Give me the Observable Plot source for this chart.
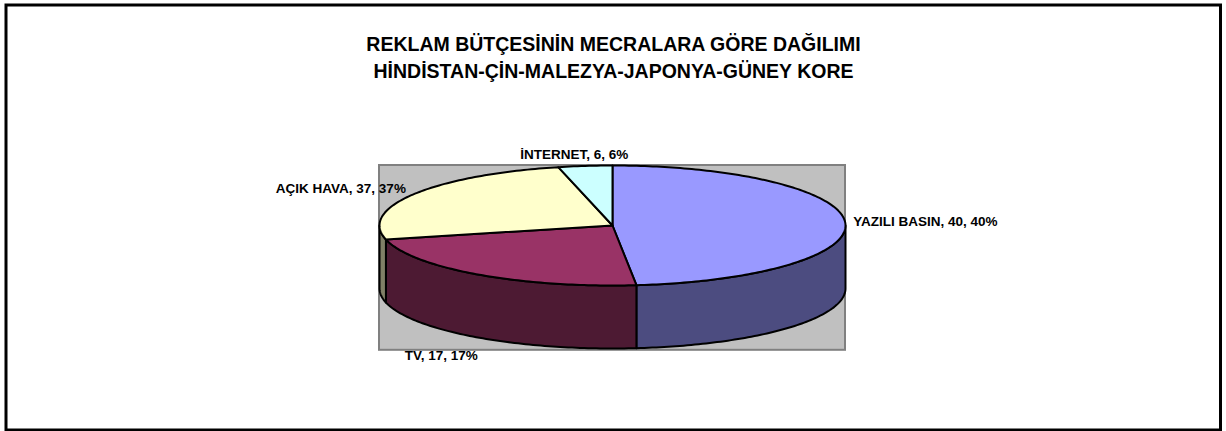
<!DOCTYPE html>
<html><head><meta charset="utf-8">
<script src="https://cdn.jsdelivr.net/npm/d3@7"></script>
<script src="https://cdn.jsdelivr.net/npm/@observablehq/plot@0.6"></script>
<style>
body{margin:0;background:#fff;overflow:hidden}
#chart{width:1226px;height:431px}
</style>
</head><body><div id="chart"></div>
<script>
// ---- data ----
const titleLines = ["REKLAM BÜTÇESİNİN MECRALARA GÖRE DAĞILIMI", "HİNDİSTAN-ÇİN-MALEZYA-JAPONYA-GÜNEY KORE"];
const categories = ["YAZILI BASIN", "TV", "AÇIK HAVA", "İNTERNET"];
const values = [40, 17, 37, 6];

// ---- styles ----
const topColors = ["#9999FF", "#993366", "#FFFFCC", "#CCFFFF"];
const sideColors = ["#4C4C80", "#4D1A33", "#808066", "#668080"];
const FONT = "'Liberation Sans', Arial, sans-serif";

// ---- 3D layout (unit coordinates of the pie) ----
const DEPTH = 1.05;          // thickness of the pie, in units of the vertical radius
const PERSP_R = 0.27, PERSP_DIR = 130; // perspective distortion of the angles

const rad = Math.PI / 180;
function h(psi) { const p = psi * rad; return 2 * Math.atan(PERSP_R * Math.sin(p) / (1 - PERSP_R * Math.cos(p))) / rad; }
function apparent(phi) { return phi + h(phi - PERSP_DIR) - h(-PERSP_DIR); }
function arc(a, b, dy = 0) {
  const n = Math.max(1, Math.ceil(b - a));
  return d3.range(n + 1).map(i => { const t = (a + (b - a) * i / n) * rad; return {x: Math.sin(t), y: -Math.cos(t) + dy}; });
}

const total = d3.sum(values);
let acc = 0;
const slices = categories.map((c, i) => {
  const a0 = acc / total * 360; acc += values[i]; const a1 = acc / total * 360;
  return {i, name: c, value: values[i], pct: Math.round(values[i] / total * 100) + "%", a: apparent(a0), b: apparent(a1)};
});

const tops = [], sides = [];
for (const s of slices) {
  const pts = [{x: 0, y: 0}, ...arc(s.a, s.b), {x: 0, y: 0}];
  pts.forEach(p => tops.push({...p, id: "t" + s.i, fill: topColors[s.i]}));
  const lo = Math.max(s.a, 90), hi = Math.min(s.b, 270);
  if (hi > lo) {
    const up = arc(lo, hi), down = arc(lo, hi, DEPTH).reverse();
    [...up, ...down, up[0]].forEach(p => sides.push({...p, id: "s" + s.i, fill: sideColors[s.i]}));
  }
}

const labels = slices.map(s => {
  const m = (s.a + s.b) / 2, sn = Math.sin(m * rad), cs = Math.cos(m * rad);
  const front = cs < -0.3;
  const anchor = front ? "end" : sn > 0.3 ? "start" : sn < -0.3 ? "end" : "middle";
  const ox = front ? 0 : anchor === "start" ? 8 : anchor === "end" ? -8 : -11;
  const oy = front ? 18 : -cs * 11;
  return {text: `${s.name}, ${s.value}, ${s.pct}`, anchor,
          x: sn + ox / 233, y: -cs + (front ? DEPTH : 0) + oy / 60};
});

const labelMark = anchor => Plot.text(labels.filter(d => d.anchor === anchor), {
  x: "x", y: "y", text: "text", textAnchor: anchor, fontWeight: "bold", fontSize: 13.5, fill: "black"
});

const chart = Plot.plot({
  width: 1226, height: 431, margin: 0,
  x: {domain: [-1, 1], range: [379, 845], axis: null},
  y: {domain: [-1, 1], range: [165, 285], axis: null},
  color: {type: "identity"},
  style: {fontFamily: FONT, background: "white", overflow: "visible"},
  marks: [
    Plot.frame({stroke: "black", strokeWidth: 3, insetLeft: 5.5, insetTop: 4.5, insetRight: 6, insetBottom: 1.5}),
    Plot.rect([0], {x1: () => -1, x2: () => 1, y1: () => -1, y2: () => 1 + DEPTH + 0.03, fill: "#C0C0C0", stroke: "#808080", strokeWidth: 2}),
    Plot.line(sides, {x: "x", y: "y", z: "id", fill: "fill", stroke: "black", strokeWidth: 2, strokeLinejoin: "round"}),
    Plot.line(tops, {x: "x", y: "y", z: "id", fill: "fill", stroke: "black", strokeWidth: 2, strokeLinejoin: "round"}),
    labelMark("start"), labelMark("end"), labelMark("middle"),
    Plot.text([titleLines.join("\n")], {text: d => d, frameAnchor: "top", dy: 31, lineAnchor: "top",
      fontWeight: "bold", fontSize: 19.5, lineHeight: 1.385, fill: "black"})
  ]
});
document.getElementById("chart").appendChild(chart);
</script>
</body></html>
